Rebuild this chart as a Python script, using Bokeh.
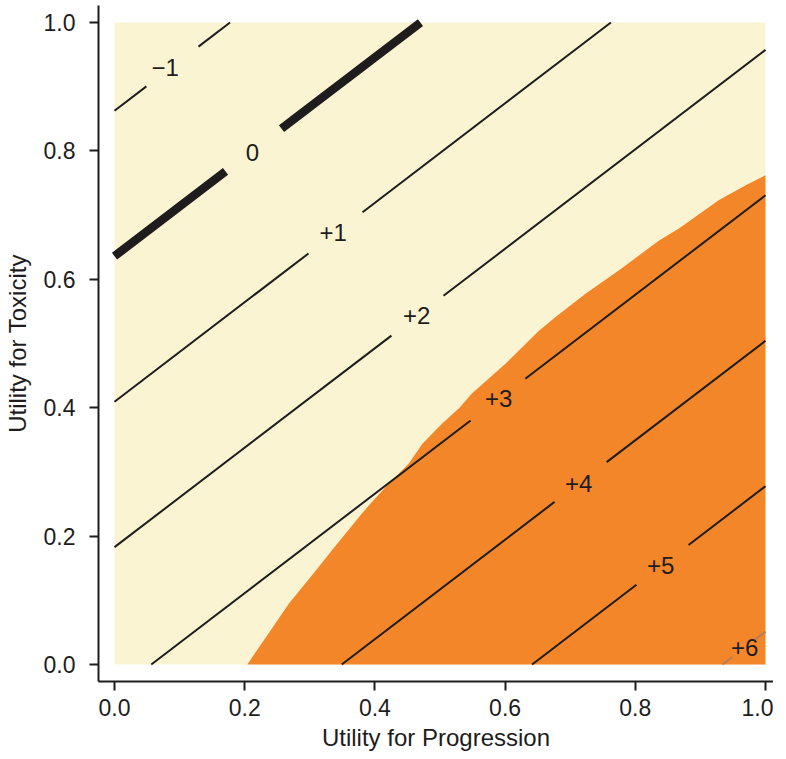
from bokeh.plotting import figure
from bokeh.models import FixedTicker, PrintfTickFormatter, ColumnDataSource
from bokeh.core.properties import value
from bokeh.embed import file_html
from bokeh.resources import INLINE

# ---------------- data ----------------
domain_x = [0.0, 1.0]
domain_y = [0.0, 1.0]
tick_values = [0.0, 0.2, 0.4, 0.6, 0.8, 1.0]

# contour levels (parallel straight contours)
levels = [-1, 0, 1, 2, 3, 4, 5, 6]
level_labels = ["\u22121", "0", "+1", "+2", "+3", "+4", "+5", "+6"]
contour_slope = 0.7746
x_at_zero = [-1.1135, -0.821, -0.5285, -0.236, 0.0565, 0.349, 0.6415, 0.934]
label_x = [0.078, 0.212, 0.336, 0.464, 0.590, 0.713, 0.839, 0.968]
label_y = [0.930, 0.798, 0.673, 0.544, 0.414, 0.282, 0.154, 0.026]
gap_center = [0.089, 0.2135, 0.3395, 0.4654, 0.589, 0.716, 0.8418, 0.967]
gap_half = [0.040, 0.043, 0.0415, 0.040, 0.042, 0.040, 0.040, 0.018]

# boundary of the orange region (Utility for Progression, Utility for Toxicity)
boundary_x = [0.204, 0.222, 0.247, 0.268, 0.309, 0.334, 0.355, 0.380, 0.391,
              0.416, 0.452, 0.473, 0.503, 0.530, 0.549, 0.601, 0.652, 0.677,
              0.724, 0.775, 0.836, 0.867, 0.928, 0.969, 1.000]
boundary_y = [0.000, 0.027, 0.064, 0.095, 0.146, 0.178, 0.204, 0.235, 0.248,
              0.276, 0.313, 0.344, 0.375, 0.400, 0.422, 0.469, 0.520, 0.541,
              0.578, 0.614, 0.660, 0.679, 0.723, 0.746, 0.762]

# ---------------- styles ----------------
CREAM = "#FAF4D3"
ORANGE = "#F4862A"
INK = "#1E1C1C"
FONT = "Liberation Sans"

p = figure(frame_width=675, frame_height=676,
           x_range=(-0.0246, 1.0123), y_range=(-0.0265, 1.0265),
           output_backend="svg", toolbar_location=None,
           min_border_left=95, min_border_right=0,
           min_border_top=5, min_border_bottom=74)
p.grid.visible = False
p.outline_line_color = None
p.background_fill_color = "white"
p.border_fill_color = "white"

# cream background of the domain
p.quad(left=[domain_x[0]], right=[domain_x[1]], bottom=[domain_y[0]], top=[domain_y[1]],
       fill_color=CREAM, line_color=None)

# orange region
p.patch(boundary_x + [domain_x[1]], boundary_y + [domain_y[0]],
        fill_color=ORANGE, line_color=None)

# contour lines with gaps for labels
xs, ys, widths, colors = [], [], [], []
for k, x0, gc, gh in zip(levels, x_at_zero, gap_center, gap_half):
    x_lo = max(domain_x[0], x0)
    x_hi = min(domain_x[1], x0 + domain_y[1] / contour_slope)
    for a, b in ((x_lo, gc - gh), (gc + gh, x_hi)):
        if b > a:
            xs.append([a, b])
            ys.append([contour_slope * (a - x0), contour_slope * (b - x0)])
            widths.append(8.5 if k == 0 else 2.0)
            colors.append("#B57E55" if k == 6 else INK)

src = ColumnDataSource(dict(xs=xs, ys=ys, w=widths, c=colors))
p.multi_line(xs="xs", ys="ys", line_width="w", line_color="c", line_cap="butt", source=src)

p.text(x=label_x, y=label_y, text=level_labels, text_align="center",
       text_baseline="middle", text_font=value(FONT), text_font_size="24px",
       text_color=INK)

# axes
for ax in (p.xaxis[0], p.yaxis[0]):
    ax.ticker = FixedTicker(ticks=tick_values)
    ax.formatter = PrintfTickFormatter(format="%.1f")
    ax.major_tick_in = 0
    ax.major_tick_out = 9
    ax.minor_tick_in = 0
    ax.minor_tick_out = 0
    ax.axis_line_width = 2
    ax.major_tick_line_width = 2
    ax.axis_line_color = INK
    ax.major_tick_line_color = INK
    ax.major_label_text_font = FONT
    ax.major_label_text_font_size = "23px"
    ax.major_label_text_color = INK
    ax.axis_label_text_font = FONT
    ax.axis_label_text_font_size = "24px"
    ax.axis_label_text_font_style = "normal"
    ax.axis_label_text_color = INK

p.xaxis.axis_label = "Utility for Progression"
p.yaxis.axis_label = "Utility for Toxicity"
p.yaxis.major_label_standoff = 14
p.xaxis.major_label_standoff = 8
p.yaxis.axis_label_standoff = 10
p.xaxis.axis_label_standoff = 5

open("out.html", "w").write(file_html(p, INLINE))
